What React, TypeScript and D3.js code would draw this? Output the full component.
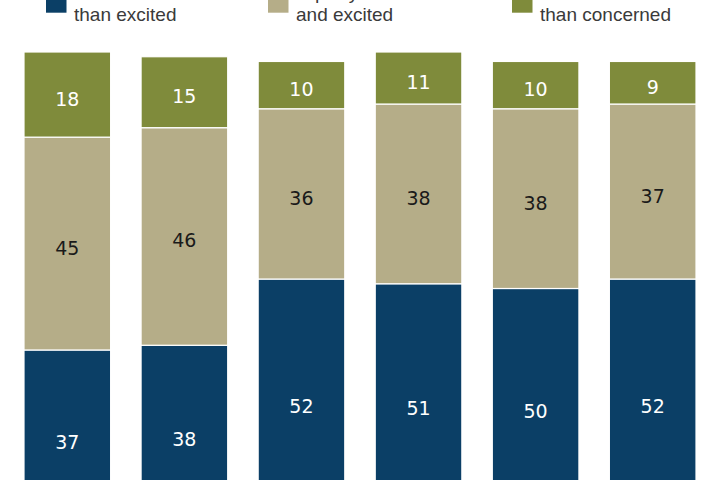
import React from 'react';
import * as d3 from 'd3';

// survey waves (labels fall below the visible frame)
const waves = ['w1', 'w2', 'w3', 'w4', 'w5', 'w6'];

const moreConcerned = [37, 38, 52, 51, 50, 52];
const equally = [45, 46, 36, 38, 38, 37];
const moreExcited = [18, 15, 10, 11, 10, 9];

const seriesKeys = ['concerned', 'equally', 'excited'];
const legendLines = [
  ['More concerned', 'than excited'],
  ['Equally concerned', 'and excited'],
  ['More excited', 'than concerned'],
];

const colors = ['#0b3f66', '#b5ad88', '#7f8b3b'];
const labelColors = ['#ffffff', '#1a1a1a', '#ffffff'];

const width = 720;
const height = 480;
const legendX = [46, 268, 512];

const App: React.FC = () => {
  const rows = waves.map((w, i) => ({
    wave: w,
    concerned: moreConcerned[i],
    equally: equally[i],
    excited: moreExcited[i],
  }));

  const stack = d3.stack<any>().keys(seriesKeys);
  const layers = stack(rows);

  const x = d3.scaleBand()
    .domain(waves)
    .range([24, 696])
    .paddingInner(0.26)
    .paddingOuter(0);

  const y = d3.scaleLinear()
    .domain([0, 100])
    .range([525, 52]);

  return (
    <div style={{ position: 'absolute', left: 0, top: 0 }}>
      <svg width={width} height={height} style={{ display: 'block' }}>
        {/* Legend, top lines clipped by the frame */}
        {legendLines.map((lines, i) => (
          <g key={i} transform={`translate(${legendX[i]},0)`}>
            <rect x={0} y={-8} width={20.5} height={20.7} fill={colors[i]} />
            {lines.map((t, j) => (
              <text
                key={j}
                x={28}
                y={-1 + j * 22}
                fontFamily="'Liberation Sans', Arial, sans-serif"
                fontSize={19}
                fill="#3a3a3a"
              >
                {t}
              </text>
            ))}
          </g>
        ))}

        {/* Stacked bars */}
        {layers.map((layer, li) => (
          <g key={layer.key}>
            {layer.map((d, i) => {
              const x0 = x(waves[i]) || 0;
              const yTop = y(d[1]);
              const yBot = y(d[0]);
              return (
                <g key={i}>
                  <rect
                    x={x0}
                    y={yTop}
                    width={x.bandwidth()}
                    height={yBot - yTop}
                    fill={colors[li]}
                    stroke="#ffffff"
                    strokeWidth={1.2}
                  />
                  <text
                    x={x0 + x.bandwidth() / 2}
                    y={(yTop + yBot) / 2}
                    dy="0.58em"
                    textAnchor="middle"
                    fontFamily="'DejaVu Sans', sans-serif"
                    fontSize={19}
                    fill={labelColors[li]}
                  >
                    {d[1] - d[0]}
                  </text>
                </g>
              );
            })}
          </g>
        ))}
      </svg>
    </div>
  );
};

export default App;
